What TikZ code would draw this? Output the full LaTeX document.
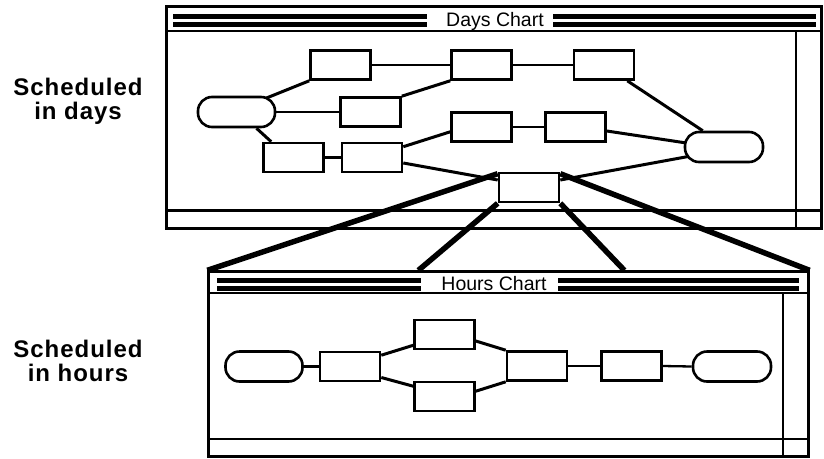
\documentclass[tikz,border=0pt]{standalone}
\usepackage{fontspec}
\setmainfont{Liberation Sans}
\usetikzlibrary{calc,backgrounds}
\begin{document}
\begin{tikzpicture}[x=1pt,y=-1pt,
  box/.style={draw,line width=2.6pt,fill=white,minimum width=60pt,minimum height=29pt,inner sep=0pt},
  term/.style={draw,line width=2.6pt,fill=white,rounded corners=14pt,minimum width=77pt,minimum height=30pt,inner sep=0pt},
  conn/.style={line width=3pt},
  hconn/.style={line width=2.3pt},
  zoomline/.style={line width=5.5pt},
  win/.style={draw,line width=2.3pt,inner sep=0pt},
  winline/.style={line width=2.3pt},
  sepline/.style={line width=2.8pt},
  band/.style={fill=black},
  wtitle/.style={font=\fontsize{19.5}{19.5}\selectfont,anchor=base,inner sep=0pt},
  side/.style={font={\fontsize{24}{24}\selectfont\bfseries\addfontfeature{LetterSpace=4}},align=center,inner sep=0pt}]
\useasboundingbox (0,0) rectangle (824,458);

% ---------- side labels ----------
\node[side] (ldays) at (78,101) {Scheduled\\in days};
\node[side] (lhours) at (78,361) {Scheduled\\in hours};

% ---------- Days window ----------
\node[win,minimum width=655pt,minimum height=222pt] (dw) at (494,117.5) {};
\draw[sepline] (166.5,31) -- (821.5,31);
\draw[winline] (796,31) -- (796,228.5);
\draw[winline] (166.5,210.5) -- (821.5,210.5);
\fill[band] (172.5,13.5) rectangle (427,19);
\fill[band] (172.5,21.5) rectangle (427,27);
\fill[band] (553,13.5) rectangle (816,19);
\fill[band] (553,21.5) rectangle (816,27);
\node[wtitle] (dtitle) at (495,26) {Days Chart};

% ---------- Hours window ----------
\node[win,minimum width=600pt,minimum height=185pt] (hw) at (508.5,364) {};
\draw[sepline] (208.5,293) -- (808.5,293);
\draw[winline] (783,293) -- (783,456.5);
\draw[winline] (208.5,439) -- (808.5,439);
\fill[band] (217,278) rectangle (421,283);
\fill[band] (217,285.5) rectangle (421,290.5);
\fill[band] (558,278) rectangle (799,283);
\fill[band] (558,285.5) rectangle (799,290.5);
\node[wtitle] (htitle) at (494,290) {Hours Chart};

% ---------- Days chart nodes ----------
\node[term] (S) at (236.5,112) {};
\node[box] (A) at (340.5,65) {};
\node[box] (B) at (481.5,65) {};
\node[box] (C) at (604,65) {};
\node[box] (D) at (370.5,112) {};
\node[box] (E) at (481.5,127) {};
\node[box] (F) at (575.5,127) {};
\node[box] (G) at (293.5,157.5) {};
\node[box] (H) at (372,157.5) {};
\node[box] (I) at (529,187.5) {};
\node[term,minimum width=78pt] (T) at (724,147) {};

% ---------- Hours chart nodes ----------
\node[term] (HS) at (264,366.5) {};
\node[box] (H1) at (350,366.5) {};
\node[box] (H2) at (444.5,334.5) {};
\node[box] (H3) at (444.5,396.5) {};
\node[box] (H4) at (537,366) {};
\node[box] (H5) at (631.5,366) {};
\node[term,minimum width=78pt] (HE) at (732,366.5) {};

% ---------- connectors ----------
\begin{scope}[on background layer]
  \draw[conn] ($(S.north east)+(-14,4)$) -- (A.south west);
  \draw[hconn] (S.east) -- (D.west);
  \draw[conn] ($(S.south)+(20,0)$) -- ($(G.north west)+(9,0)$);
  \draw[hconn] (A.east) -- (B.west);
  \draw[conn] (D.north east) -- (B.south west);
  \draw[hconn] (B.east) -- (C.west);
  \draw[conn] ($(C.south east)+(-8,0)$) -- ($(T.north west)+(19,0)$);
  \draw[hconn] (G.east) -- (H.west);
  \draw[conn] ($(H.north east)+(0,5)$) -- ($(E.south west)+(0,-11)$);
  \draw[hconn] (E.east) -- (F.west);
  \draw[conn] ($(F.east)+(0,4)$) -- ($(T.west)+(16,-2)$);
  \draw[conn] ($(H.east)+(0,5.5)$) -- ($(I.west)+(0,-7.5)$);
  \draw[conn] ($(I.east)+(0,-7.5)$) -- ($(T.west)+(16,7.4)$);

  \draw[hconn] (HS.east) -- (H1.west);
  \draw[conn] ($(H1.north east)+(0,4.5)$) -- ($(H2.south west)+(0,-5)$);
  \draw[conn] ($(H1.south east)+(0,-4.8)$) -- ($(H3.north west)+(0,5.5)$);
  \draw[conn] ($(H2.south east)+(0,-9.3)$) -- (H4.north west);
  \draw[conn] ($(H3.north east)+(0,10.5)$) -- (H4.south west);
  \draw[hconn] (H4.east) -- (H5.west);
  \draw[hconn] (H5.east) -- (HE.west);
\end{scope}

% ---------- zoom lines ----------
\draw[zoomline] ($(I.north west)+(0,2)$) -- (hw.north west);
\draw[zoomline] (I.south west) -- ($(hw.north west)+(211,0)$);
\draw[zoomline] (I.south east) -- ($(hw.north west)+(417,0)$);
\draw[zoomline] ($(I.north east)+(0,2)$) -- (hw.north east);
\end{tikzpicture}
\end{document}
